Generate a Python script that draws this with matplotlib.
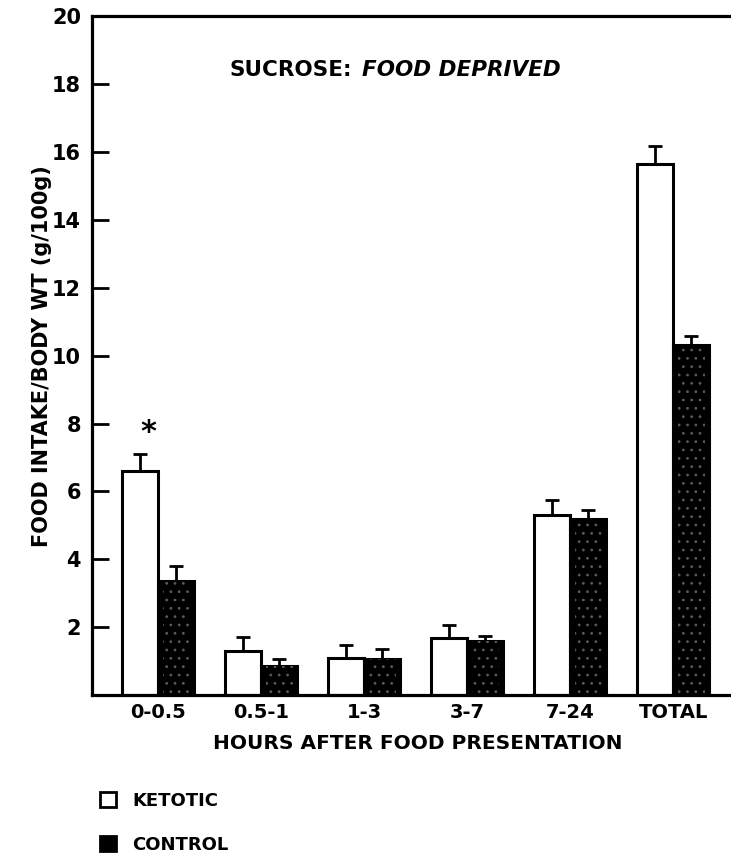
import numpy as np
import matplotlib
matplotlib.use("Agg")
import matplotlib.pyplot as plt
from matplotlib.patches import Patch

# data
periods = ["0-0.5", "0.5-1", "1-3", "3-7", "7-24", "TOTAL"]
ketotic = [6.6, 1.3, 1.1, 1.68, 5.3, 15.65]
ketotic_err = [0.5, 0.42, 0.38, 0.38, 0.45, 0.52]
control = [3.35, 0.85, 1.06, 1.6, 5.2, 10.3]
control_err = [0.45, 0.22, 0.3, 0.15, 0.25, 0.28]
yticks = [2, 4, 6, 8, 10, 12, 14, 16, 18, 20]

plt.rcParams["font.family"] = ["DejaVu Sans"]
plt.rcParams["font.weight"] = "bold"
plt.rcParams["axes.labelweight"] = "bold"
plt.rcParams["hatch.linewidth"] = 0.8

fig = plt.figure(figsize=(7.31, 8.57), dpi=100)
ax = fig.add_axes([0.126, 0.189, 0.874, 0.792])

x = np.arange(len(periods))
w = 0.35
lw = 2.2

ax.bar(x - w / 2, ketotic, w, color="white", edgecolor="black", linewidth=lw, zorder=2)
ax.bar(x + w / 2, control, w, color="black", edgecolor="black", linewidth=lw, zorder=2)
# faint speckle on the dark bars
ax.bar(x + w / 2, control, w * 0.75, fill=False, hatch="..", edgecolor="#5a5a5a",
       linewidth=0, zorder=3)

zeros = np.zeros(len(periods))
ax.errorbar(x - w / 2, ketotic, yerr=[zeros, ketotic_err], fmt="none",
            ecolor="black", elinewidth=2, capsize=5, capthick=2, zorder=1)
ax.errorbar(x + w / 2, control, yerr=[zeros, control_err], fmt="none",
            ecolor="black", elinewidth=2, capsize=5, capthick=2, zorder=1)

ax.text(x[0] - w / 2 + 0.08, 7.75, "*", ha="center", va="center", fontsize=22)

ax.set_xlim(-0.64, 5.56)
ax.set_ylim(0, 20)
ax.set_yticks(yticks)
ax.set_yticklabels([str(t) for t in yticks], fontsize=15)
ax.set_xticks(x)
ax.set_xticklabels(periods, fontsize=14)
ax.tick_params(axis="y", direction="in", length=12, width=2, pad=8)
ax.tick_params(axis="x", length=0, pad=6)

ax.spines["right"].set_visible(False)
for s in ["left", "bottom", "top"]:
    ax.spines[s].set_linewidth(2.3)

ax.set_ylabel("FOOD INTAKE/BODY WT (g/100g)", fontsize=15)
ax.yaxis.set_label_coords(-0.078, 0.5)
ax.yaxis.label.set_va("center")
ax.set_xlabel("HOURS AFTER FOOD PRESENTATION", fontsize=14.5)
ax.xaxis.set_label_coords(0.51, -0.071)
ax.xaxis.label.set_va("center")

fig.text(352 / 731, 1 - 70 / 857, "SUCROSE:", ha="right", va="center", fontsize=15.5)
fig.text(362 / 731, 1 - 70 / 857, "FOOD DEPRIVED", ha="left", va="center",
         fontsize=15.5, style="italic")

handles = [Patch(facecolor="white", edgecolor="black", linewidth=2, label="KETOTIC"),
           Patch(facecolor="black", edgecolor="black", linewidth=2, label="CONTROL")]
fig.legend(handles=handles, loc="upper left", bbox_to_anchor=(100 / 731, 1 - 792 / 857),
           frameon=False, borderpad=0, borderaxespad=0, handlelength=0.9,
           handleheight=0.9, handletextpad=0.9, labelspacing=1.45,
           prop={"size": 13, "weight": "bold"})

fig.savefig("out.png", dpi=100)
